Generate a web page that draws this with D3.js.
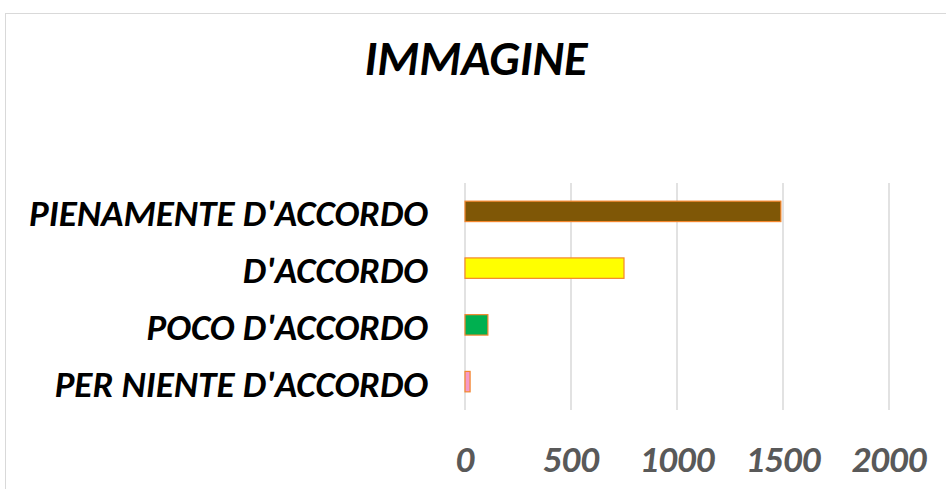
<!DOCTYPE html>
<html>
<head>
<meta charset="utf-8">
<script src="https://cdn.jsdelivr.net/npm/d3@7"></script>
<style>
  body { margin: 0; background: #fff; }
  svg text { font-family: Carlito, Lato, "Open Sans", sans-serif; font-style: italic; font-weight: bold; }
</style>
</head>
<body>
<div id="chart"></div>
<script>
// chart data
const categories = ["PIENAMENTE D'ACCORDO", "D'ACCORDO", "POCO D'ACCORDO", "PER NIENTE D'ACCORDO"];
const values = [1490, 750, 108, 24];
const barColors = ["#7F5706", "#FFFF00", "#00B050", "#F49AC9"];
const tickValues = [0, 500, 1000, 1500, 2000];
const chartTitle = "IMMAGINE";

const width = 946, height = 489;
const margin = {left: 465, right: 57, top: 183, bottom: 79};

let svg = d3.select("#chart")
    .append("svg")
    .attr("width", width)
    .attr("height", height);

// outer chart border
svg.append("rect")
    .attr("x", 5.5).attr("y", 13.5)
    .attr("width", width).attr("height", height)
    .attr("fill", "none")
    .attr("stroke", "#d9d9d9")
    .attr("stroke-width", 1);

let x = d3.scaleLinear()
    .domain([0, 2000])
    .range([margin.left, width - margin.right]);

let y = d3.scaleBand()
    .domain(categories)
    .range([margin.top, height - margin.bottom])
    .paddingInner(0.64)
    .paddingOuter(0.32);

// gridlines
svg.append("g")
    .selectAll("line")
    .data(tickValues)
    .enter()
    .append("line")
    .attr("x1", d => x(d)).attr("x2", d => x(d))
    .attr("y1", margin.top).attr("y2", height - margin.bottom)
    .attr("stroke", "#d9d9d9")
    .attr("stroke-width", 1.5);

// bars
svg.append("g")
    .selectAll("rect")
    .data(categories)
    .enter()
    .append("rect")
    .attr("x", x(0))
    .attr("y", d => y(d))
    .attr("width", (d, i) => x(values[i]) - x(0))
    .attr("height", y.bandwidth())
    .attr("fill", (d, i) => barColors[i])
    .attr("stroke", "#F4862C")
    .attr("stroke-width", 1.2);

// category labels
svg.append("g")
    .selectAll("text")
    .data(categories)
    .enter()
    .append("text")
    .attr("x", 428)
    .attr("y", d => y(d) + y.bandwidth() / 2 + 15)
    .style("text-anchor", "end")
    .style("font-size", "37px")
    .attr("fill", "#000")
    .text(d => d);

// x tick labels
svg.append("g")
    .selectAll("text")
    .data(tickValues)
    .enter()
    .append("text")
    .attr("x", d => x(d))
    .attr("y", 472)
    .style("text-anchor", "middle")
    .style("font-size", "37px")
    .attr("fill", "#595959")
    .text(d => d);

// title
svg.append("text")
    .attr("x", 476)
    .attr("y", 75)
    .style("text-anchor", "middle")
    .style("font-size", "48px")
    .attr("fill", "#000")
    .text(chartTitle);
</script>
</body>
</html>
